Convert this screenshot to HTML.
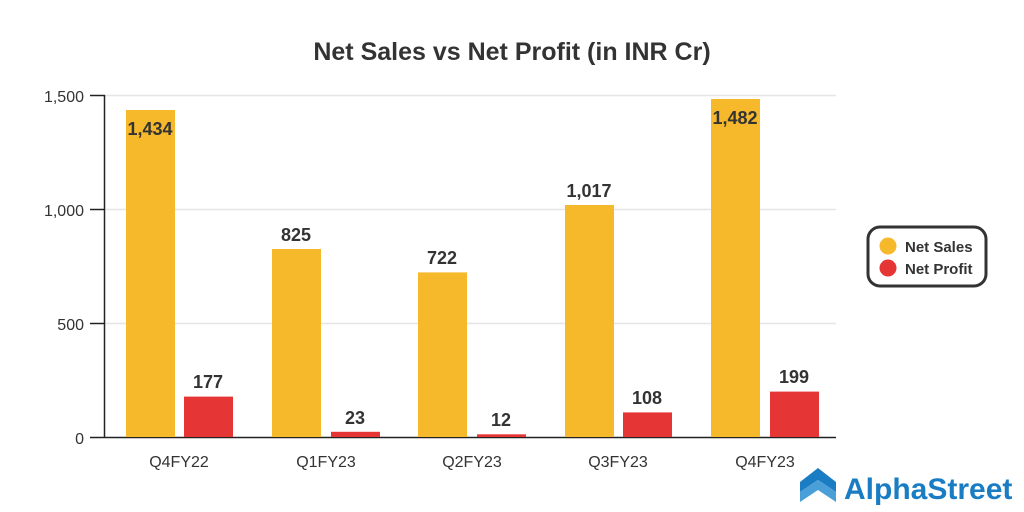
<!DOCTYPE html>
<html><head><style>
body{margin:0;background:#fff;}
svg{display:block;font-family:"Liberation Sans",sans-serif;}
.b{font-weight:bold;fill:#333;font-size:18px;text-anchor:middle;}
.t{fill:#333;font-size:16px;}
</style></head><body>
<svg width="1024" height="512" viewBox="0 0 1024 512">
<rect width="1024" height="512" fill="#fff"/>
<text x="512" y="60" text-anchor="middle" font-size="25" font-weight="bold" fill="#333">Net Sales vs Net Profit (in INR Cr)</text>
<g stroke="#e6e6e6" stroke-width="1.5">
<line x1="105" y1="95.5" x2="836" y2="95.5"/>
<line x1="105" y1="209.5" x2="836" y2="209.5"/>
<line x1="105" y1="323.5" x2="836" y2="323.5"/>
</g>
<g stroke="#222" stroke-width="1.5">
<line x1="104.5" y1="95" x2="104.5" y2="437"/>
<line x1="90" y1="95.5" x2="105" y2="95.5"/>
<line x1="90" y1="209.5" x2="105" y2="209.5"/>
<line x1="90" y1="323.5" x2="105" y2="323.5"/>
<line x1="90" y1="437.5" x2="836" y2="437.5"/>
</g>
<g class="t" text-anchor="end">
<text x="84" y="102">1,500</text>
<text x="84" y="216">1,000</text>
<text x="84" y="330">500</text>
<text x="84" y="444">0</text>
</g>
<g fill="#f6b92b">
<rect x="126" y="110" width="49" height="327"/>
<rect x="272" y="249" width="49" height="188"/>
<rect x="418" y="272.4" width="49" height="164.6"/>
<rect x="565" y="205" width="49" height="232"/>
<rect x="711" y="99" width="49" height="338"/>
</g>
<g fill="#e63535">
<rect x="184" y="396.6" width="49" height="40.4"/>
<rect x="331" y="431.8" width="49" height="5.2"/>
<rect x="477" y="434.3" width="49" height="2.7"/>
<rect x="623" y="412.4" width="49" height="24.6"/>
<rect x="770" y="391.6" width="49" height="45.4"/>
</g>
<g class="b">
<text x="150" y="135">1,434</text>
<text x="296" y="241">825</text>
<text x="442" y="264">722</text>
<text x="589" y="197">1,017</text>
<text x="735" y="124">1,482</text>
<text x="208" y="388">177</text>
<text x="355" y="424">23</text>
<text x="501" y="426">12</text>
<text x="647" y="404">108</text>
<text x="794" y="383">199</text>
</g>
<g class="t" text-anchor="middle">
<text x="179" y="467">Q4FY22</text>
<text x="326" y="467">Q1FY23</text>
<text x="472" y="467">Q2FY23</text>
<text x="618" y="467">Q3FY23</text>
<text x="765" y="467">Q4FY23</text>
</g>
<rect x="868" y="227" width="118" height="59" rx="12" fill="#fff" stroke="#333" stroke-width="3"/>
<circle cx="888" cy="246" r="8.5" fill="#f6b92b"/>
<circle cx="888" cy="268" r="8.5" fill="#e63535"/>
<text x="905" y="252" font-size="15" font-weight="bold" fill="#333">Net Sales</text>
<text x="905" y="274" font-size="15" font-weight="bold" fill="#333">Net Profit</text>
<g transform="translate(800,468)">
<path d="M0 14 L18 0 L36 14 L36 24 L18 12 L0 24 Z" fill="#1a7dc4"/>
<path d="M0 24 L18 12 L36 24 L36 34 L18 22 L0 34 Z" fill="#4a9fd8"/>
</g>
<text x="844" y="499" font-size="30" font-weight="bold" fill="#1a7dc4">AlphaStreet</text>
</svg>
</body></html>
